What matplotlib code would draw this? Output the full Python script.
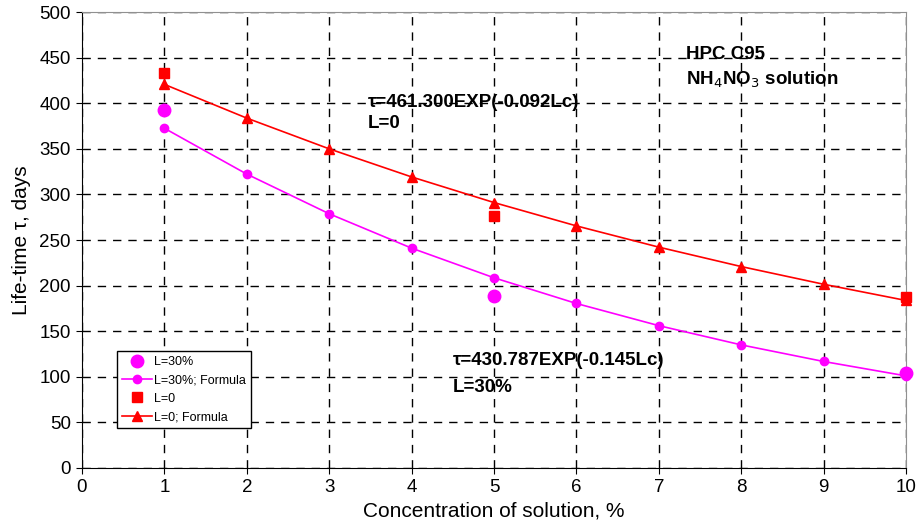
import matplotlib
matplotlib.use("Agg")
import matplotlib.pyplot as plt

plt.rcParams['font.family'] = ['Liberation Sans', 'DejaVu Sans']

conc = [1, 2, 3, 4, 5, 6, 7, 8, 9, 10]
l30_formula = [372.6, 322.3, 278.8, 241.1, 208.6, 180.4, 156.1, 135.0, 116.8, 101.0]
l0_formula = [420.7, 383.7, 350.0, 319.2, 291.1, 265.5, 242.2, 220.9, 201.5, 183.7]
exp_conc = [1, 5, 10]
l30_exp = [393, 189, 104]
l0_exp = [433, 276, 188]

fig = plt.figure(figsize=(9.19, 5.25), dpi=100)
ax = fig.add_axes([0.0892, 0.1086, 0.8967, 0.8684])

ax.plot(exp_conc, l30_exp, linestyle='none', marker='o', color='#FF00FF', markersize=9, label='L=30%', zorder=4, clip_on=False)
ax.plot(conc, l30_formula, color='#FF00FF', marker='o', markersize=6, linewidth=1.2, label='L=30%; Formula', zorder=3, clip_on=False)
ax.plot(exp_conc, l0_exp, linestyle='none', marker='s', color='#FF0000', markersize=7, label='L=0', zorder=4, clip_on=False)
ax.plot(conc, l0_formula, color='#FF0000', marker='^', markersize=7, linewidth=1.2, label='L=0; Formula', zorder=3, clip_on=False)

ax.set_xlim(0, 10)
ax.set_ylim(0, 500)
ax.set_xticks(range(0, 11))
ax.set_yticks(range(0, 501, 50))
ax.grid(True, color='black', linestyle=(0, (6, 5)), linewidth=1.0)
ax.tick_params(labelsize=13.5, direction='out', length=4, color='black', pad=4)
for s in ['top', 'right']:
    ax.spines[s].set_color('#909090')
for s in ['left', 'bottom']:
    ax.spines[s].set_color('black')

ax.set_xlabel('Concentration of solution, %', fontsize=15, labelpad=4)
ax.set_ylabel('Life-time τ, days', fontsize=15, labelpad=6)

leg = ax.legend(loc='lower left', bbox_to_anchor=(0.0425, 0.0877), fontsize=9, frameon=True,
                fancybox=False, edgecolor='black', framealpha=1, borderpad=0.4,
                borderaxespad=0, labelspacing=0.5, handlelength=2.4, handletextpad=0.2)
leg.get_frame().set_linewidth(1.0)

ax.text(3.47, 401, 'τ=461.300EXP(-0.092Lc)', fontsize=13.5, fontweight='bold', va='center')
ax.text(3.47, 378, 'L=0', fontsize=13.5, fontweight='bold', va='center')
ax.text(4.5, 118, 'τ=430.787EXP(-0.145Lc)', fontsize=13.5, fontweight='bold', va='center')
ax.text(4.5, 88, 'L=30%', fontsize=13.5, fontweight='bold', va='center')
ax.text(7.33, 453, 'HPC C95', fontsize=13.5, fontweight='bold', va='center')
ax.text(7.33, 426, 'NH$_4$NO$_3$ solution', fontsize=13.5, fontweight='bold', va='center')

fig.savefig('out.png', dpi=100)
